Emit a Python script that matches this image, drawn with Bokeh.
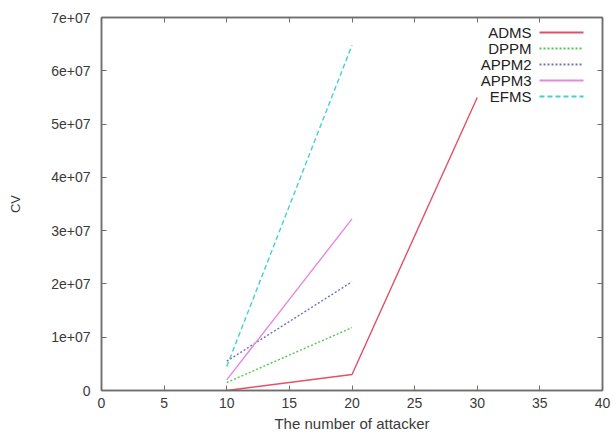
from bokeh.plotting import figure
from bokeh.models import FixedTicker, LinearAxis, Label, Arrow, Range1d
from bokeh.embed import file_html
from bokeh.resources import INLINE

x_vals = [10, 20, 30]
adms = [0, 3.0e6, 5.5e7]
x_short = [10, 20]
dppm = [1.5e6, 1.18e7]
appm2 = [5.5e6, 2.04e7]
appm3 = [2.0e6, 3.22e7]
efms = [4.5e6, 6.48e7]

series_names = ["ADMS", "DPPM", "APPM2", "APPM3", "EFMS"]
series_colors = ["#e0506a", "#50c850", "#7070c0", "#e488e0", "#40d0d8"]
series_dash = ["solid", "2 2", "2 2", "solid", "5 3"]

x_ticks = [0, 5, 10, 15, 20, 25, 30, 35, 40]
y_ticks = [0, 1e7, 2e7, 3e7, 4e7, 5e7, 6e7, 7e7]
y_tick_labels = ["0", "1e+07", "2e+07", "3e+07", "4e+07", "5e+07", "6e+07", "7e+07"]

FONT = "Liberation Sans"
AX = "#6e6e6e"
TXT = "#3a3a3a"

p = figure(width=614, height=436, output_backend="svg", toolbar_location=None,
           x_range=Range1d(0, 40), y_range=Range1d(0, 7e7),
           min_border_left=101, min_border_right=12, min_border_top=17, min_border_bottom=46)
p.grid.visible = False
p.outline_line_color = AX
p.outline_line_width = 1.5
p.background_fill_color = "white"
p.border_fill_color = "white"

def style_axis(ax, show_labels=True):
    ax.axis_line_color = AX
    ax.axis_line_width = 1.5
    ax.major_tick_line_color = AX
    ax.major_tick_in = 5
    ax.major_tick_out = 0
    ax.minor_tick_line_color = None
    ax.major_label_text_font = FONT
    ax.major_label_text_font_size = "14px"
    ax.major_label_text_color = TXT
    ax.axis_label_text_font = FONT
    ax.axis_label_text_font_size = "15px"
    ax.axis_label_text_font_style = "normal"
    ax.axis_label_text_color = TXT
    if not show_labels:
        ax.major_label_text_font_size = "0px"
        ax.major_label_text_color = None

p.xaxis.ticker = FixedTicker(ticks=x_ticks)
p.yaxis.ticker = FixedTicker(ticks=y_ticks)
p.yaxis.major_label_overrides = {t: l for t, l in zip(y_ticks, y_tick_labels)}
p.xaxis.axis_label = "The number of attacker"
p.yaxis.axis_label = "CV"
style_axis(p.xaxis[0])
style_axis(p.yaxis[0])
p.yaxis.axis_label_text_font_size = "13px"
p.xaxis.major_label_standoff = 7
p.xaxis.axis_label_standoff = 4
p.yaxis.major_label_standoff = 11
p.yaxis.axis_label_standoff = 25

top = LinearAxis(ticker=FixedTicker(ticks=x_ticks))
right = LinearAxis(ticker=FixedTicker(ticks=y_ticks))
style_axis(top, False)
style_axis(right, False)
p.add_layout(top, "above")
p.add_layout(right, "right")

data = [(x_vals, adms), (x_short, dppm), (x_short, appm2), (x_short, appm3), (x_short, efms)]
for (xs, ys), c, d in zip(data, series_colors, series_dash):
    p.line(xs, ys, line_color=c, line_width=1.4, line_dash=d)

# legend (gnuplot style: text right-aligned, sample on right); screen units relative to frame
FL, FB = 101, 390
for i, (n, c, d) in enumerate(zip(series_names, series_colors, series_dash)):
    yy = 32 + 16 * i
    p.add_layout(Label(x=531 - FL, y=FB - yy, x_units="screen", y_units="screen", text=n,
                       text_align="right", text_baseline="middle", text_font=FONT,
                       text_font_size="15px", text_color="#222222"))
    p.add_layout(Arrow(start=None, end=None, x_start=539 - FL, y_start=FB - yy,
                       x_end=583 - FL, y_end=FB - yy, start_units="screen", end_units="screen",
                       line_color=c, line_width=2, line_dash=d))

open("out.html", "w").write(file_html(p, INLINE))
